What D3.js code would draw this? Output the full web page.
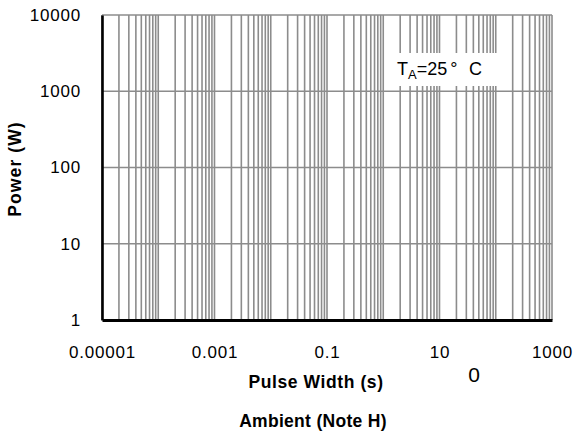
<!DOCTYPE html>
<html><head><meta charset="utf-8">
<script src="https://cdn.jsdelivr.net/npm/d3@7"></script>
<style>body{margin:0;background:#fff}svg{display:block}text{font-family:"Liberation Sans",Arial,sans-serif}</style>
</head><body>
<svg id="c" width="582" height="439"></svg>
<script>
const xDomain = [1e-5, 1e3];
const yDomain = [1, 1e4];
const xTickLabels = [0.00001, 0.001, 0.1, 10, 1000];
const yTickLabels = [1, 10, 100, 1000, 10000];
const xLabel = "Pulse Width (s)";
const yLabel = "Power (W)";
const subLabel = "Ambient (Note H)";
const strayLabel = "0";

const m = {l:102, t:15, r:30, b:119};
const W = 582, H = 439;
const w = W - m.l - m.r, h = H - m.t - m.b;
const svg = d3.select("#c");
const g = svg.append("g").attr("transform", `translate(${m.l},${m.t})`);
const x = d3.scaleLog().domain(xDomain).range([0, w]);
const y = d3.scaleLog().domain(yDomain).range([h, 0]);

// vertical minor + major gridlines
const xGrid = [];
for (let e = -5; e < 3; e++) for (let k = 1; k <= 9; k++) xGrid.push(k * Math.pow(10, e));
xGrid.push(1000);
g.append("g").selectAll("line").data(xGrid).join("line")
  .attr("x1", d => x(d)).attr("x2", d => x(d)).attr("y1", 0).attr("y2", h)
  .attr("stroke", "#8c8c8c").attr("stroke-width", 1.6);
// horizontal gridlines at decades
g.append("g").selectAll("line").data(yTickLabels.slice(1)).join("line")
  .attr("x1", 0).attr("x2", w).attr("y1", d => y(d)).attr("y2", d => y(d))
  .attr("stroke", "#8c8c8c").attr("stroke-width", 1.6);

// axes
const xAxis = d3.axisBottom(x).tickValues(xTickLabels).tickSize(0).tickPadding(26)
  .tickFormat(d => String(+d.toPrecision(6)));
const gx = g.append("g").attr("transform", `translate(0,${h})`).call(xAxis);
gx.select(".domain").attr("stroke", "#000").attr("stroke-width", 3);
gx.selectAll("text").attr("font-size", 17).attr("letter-spacing", 0.8).attr("fill", "#000")
  .attr("font-family", "Liberation Sans, Arial, sans-serif");

const yAxis = d3.axisLeft(y).tickValues(yTickLabels).tickSize(0).tickPadding(21)
  .tickFormat(d => String(d));
const gy = g.append("g").call(yAxis);
gy.select(".domain").attr("stroke", "#000").attr("stroke-width", 2.6);
gy.selectAll("text").attr("font-size", 17).attr("letter-spacing", 0.8).attr("fill", "#000")
  .attr("font-family", "Liberation Sans, Arial, sans-serif");

// labels
svg.append("text").attr("x", 316).attr("y", 388).attr("text-anchor", "middle")
  .attr("font-size", 17.5).attr("letter-spacing", 0.6).attr("font-weight", "bold").text(xLabel);
svg.append("text").attr("x", 313).attr("y", 427).attr("text-anchor", "middle")
  .attr("font-size", 17.5).attr("letter-spacing", 0.3).attr("font-weight", "bold").text(subLabel);
svg.append("text").attr("transform", "translate(21,169) rotate(-90)").attr("text-anchor", "middle")
  .attr("font-size", 17.5).attr("letter-spacing", 1.1).attr("font-weight", "bold").text(yLabel);
svg.append("text").attr("x", 474).attr("y", 382).attr("text-anchor", "middle")
  .attr("font-size", 21).attr("font-family", "Carlito, 'Open Sans', sans-serif").text(strayLabel);

// annotation box
svg.append("rect").attr("x", 385).attr("y", 53).attr("width", 112).attr("height", 33).attr("fill", "#fff");
const t = svg.append("text").attr("x", 397).attr("y", 75).attr("font-size", 18);
t.append("tspan").text("T");
t.append("tspan").attr("font-size", 13).attr("dy", 4).text("A");
t.append("tspan").attr("dy", -4).text("=25");
t.append("tspan").attr("dx", 3).text("°");
t.append("tspan").attr("x", 469).text("C");
</script>
</body></html>
